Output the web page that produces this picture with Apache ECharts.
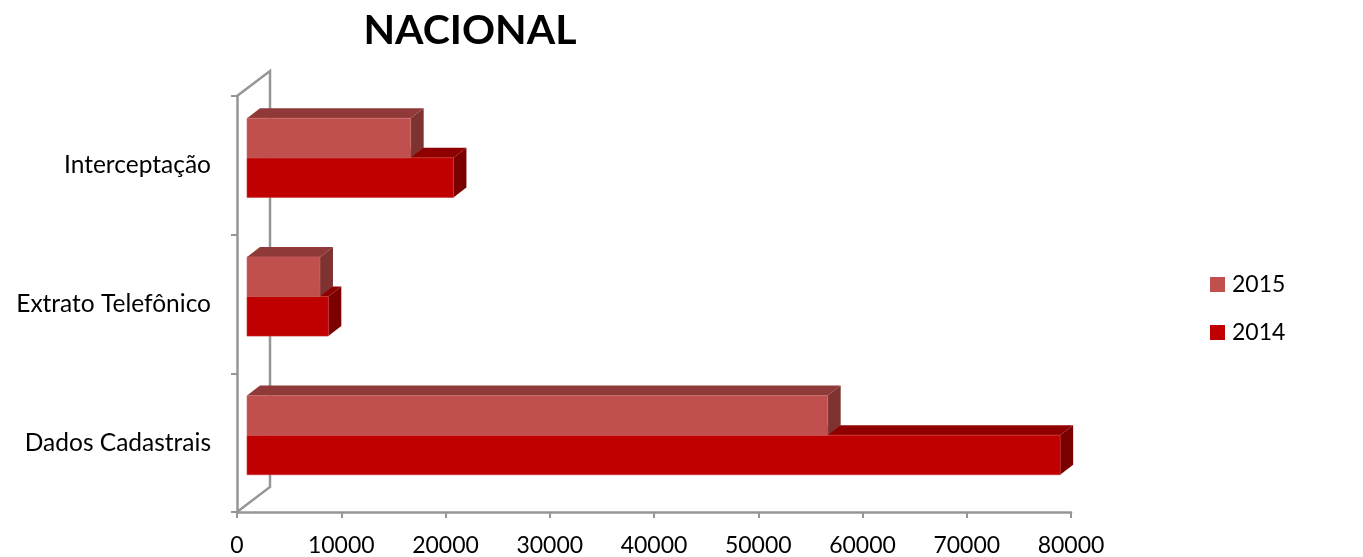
<!DOCTYPE html>
<html><head><meta charset="utf-8">
<style>html,body{margin:0;padding:0;background:#fff}#c{width:1363px;height:557px}</style>
<script src="https://cdn.jsdelivr.net/npm/echarts@6/dist/echarts.min.js"></script>
</head><body><div id="c"></div>
<script>
const categories = ['Dados Cadastrais', 'Extrato Telefônico', 'Interceptação'];
const values2015 = [55700, 7000, 15700];
const values2014 = [78000, 7800, 19800];
const tickInterval = 10000;
const axisMax = 80000;

const FF = 'Lato';
const dx = 13, dy = -10, inset = 10, wallDx = 33, wallDy = -25;

function barRenderer(slot, front, top, side, edge) {
  return function (params, api) {
    const val = api.value(0), cat = api.value(1);
    const base = api.coord([0, cat]);
    const end = api.coord([val, cat]);
    const band = api.size([0, 1])[1];
    const h = band * 0.2855;
    const cy = base[1] - 7.5;
    const x0 = base[0] + inset, x1 = end[0] + inset;
    const y0 = slot === 0 ? cy - h : cy;
    const y1 = y0 + h;
    return {
      type: 'group',
      children: [
        { type: 'polygon', shape: { points: [[x0, y0], [x0 + dx, y0 + dy], [x1 + dx, y0 + dy], [x1, y0]] }, style: { fill: top } },
        { type: 'polygon', shape: { points: [[x1, y0], [x1 + dx, y0 + dy], [x1 + dx, y1 + dy], [x1, y1]] }, style: { fill: side } },
        { type: 'rect', shape: { x: x0, y: y0, width: x1 - x0, height: h }, style: { fill: front, stroke: edge, lineWidth: 0.6 } }
      ]
    };
  };
}

const chart = echarts.init(document.getElementById('c'), null, { renderer: 'canvas' });
chart.setOption({
  animation: false,
  backgroundColor: '#fff',
  title: {
    text: 'NACIONAL', left: 465, top: 5, textAlign: 'center',
    textStyle: { fontFamily: FF, fontWeight: 'bold', fontSize: 41, color: '#000' }
  },
  legend: {
    orient: 'vertical', left: 1205, top: 268, itemWidth: 15, itemHeight: 15, itemGap: 25,
    icon: 'rect', data: ['2015', '2014'], selectedMode: false,
    textStyle: { fontFamily: FF, fontSize: 23, color: '#000', padding: [0, 0, 0, 2] }
  },
  grid: { left: 237, right: 292, top: 96, bottom: 45, containLabel: false, outerBoundsMode: 'none' },
  xAxis: {
    type: 'value', min: 0, max: axisMax, interval: tickInterval,
    splitLine: { show: false },
    axisLine: { show: true, lineStyle: { color: '#969696', width: 2.5 } },
    axisTick: { show: true, length: 6, lineStyle: { color: '#969696', width: 2 } },
    axisLabel: { fontFamily: FF, fontSize: 23, color: '#000', margin: 22, formatter: v => String(v) }
  },
  yAxis: {
    type: 'category', data: categories,
    axisLine: { show: true, lineStyle: { color: '#969696', width: 2.5 } },
    axisTick: { show: true, length: 6, alignWithLabel: false, lineStyle: { color: '#969696', width: 2 } },
    axisLabel: { fontFamily: FF, fontSize: 24.5, color: '#000', margin: 26, padding: [3, 0, 0, 0] }
  },
  series: [
    {
      type: 'custom', name: 'wall', silent: true, z: 1, data: [[0]],
      encode: { x: 0 },
      renderItem: function (params) {
        const r = params.coordSys;
        return {
          type: 'polyline',
          shape: { points: [[r.x, r.y], [r.x + wallDx, r.y + wallDy], [r.x + wallDx, r.y + r.height + wallDy], [r.x, r.y + r.height]] },
          style: { stroke: '#969696', lineWidth: 2.5, fill: null }
        };
      }
    },
    {
      type: 'custom', name: '2014', z: 3, itemStyle: { color: '#C00000' },
      encode: { x: 0, y: 1 },
      data: values2014.map((v, i) => [v, i]),
      renderItem: barRenderer(1, '#C00000', '#8F0000', '#7B0000', '#CC3333')
    },
    {
      type: 'custom', name: '2015', z: 4, itemStyle: { color: '#C0504D' },
      encode: { x: 0, y: 1 },
      data: values2015.map((v, i) => [v, i]),
      renderItem: barRenderer(0, '#C0504D', '#8F3A38', '#7F3331', '#C96A67')
    }
  ]
});
</script></body></html>
